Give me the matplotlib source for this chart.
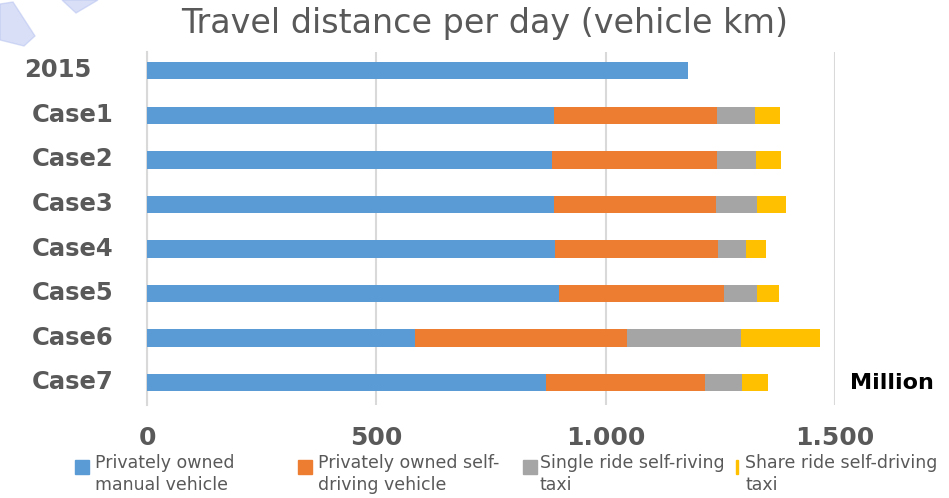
import matplotlib.pyplot as plt
import matplotlib.transforms as mtransforms
from matplotlib.patches import Rectangle, Polygon

# data (million vehicle km per day)
categories = ["2015", "Case1", "Case2", "Case3", "Case4", "Case5", "Case6", "Case7"]
manual = [1179, 888, 882, 887, 890, 899, 584, 869]
private_sd = [0, 354, 361, 353, 355, 360, 462, 348]
single_taxi = [0, 83, 84, 91, 62, 72, 248, 81]
share_taxi = [0, 56, 55, 62, 43, 47, 173, 55]
series_labels = ["Privately owned\nmanual vehicle",
                 "Privately owned self-\ndriving vehicle",
                 "Single ride self-riving\ntaxi",
                 "Share ride self-driving\ntaxi"]
xticks = [0, 500, 1000, 1500]
xtick_labels = ["0", "500", "1.000", "1.500"]

colors = ["#5B9BD5", "#ED7D31", "#A5A5A5", "#FFC000"]
text_gray = "#595959"
W, H = 949, 498

fig = plt.figure(figsize=(W / 100, H / 100), dpi=100)
ax = fig.add_axes([147 / W, 1 - 405 / H, (835 - 147) / W, (405 - 52) / H])

ypos = list(range(len(categories)))
left = [0] * len(categories)
for vals, c in zip([manual, private_sd, single_taxi, share_taxi], colors):
    ax.barh(ypos, vals, left=left, height=0.39, color=c, zorder=3)
    left = [a + b for a, b in zip(left, vals)]

ax.set_xlim(0, 1500)
ax.set_ylim(7.5, -0.42)
ax.set_xticks(xticks)
ax.set_xticklabels(xtick_labels, fontsize=18, fontweight="bold", color=text_gray)
ax.set_yticks(ypos)
ax.set_yticklabels(categories, fontsize=17.5, fontweight="bold", color=text_gray)
ax.tick_params(axis="x", length=0, pad=15)
ax.tick_params(axis="y", length=0, pad=24)
ax.grid(axis="x", color="#d9d9d9", linewidth=1.5, zorder=0)
for s in ["top", "right", "bottom"]:
    ax.spines[s].set_visible(False)
ax.spines["left"].set_color("#d9d9d9")
ax.spines["left"].set_linewidth(1.5)

# labels sit a little above the bar centres; "2015" sits further left
for i, lbl in enumerate(ax.get_yticklabels()):
    dx = -22 / 100 if i == 0 else 0
    lbl.set_transform(lbl.get_transform() +
                      mtransforms.ScaledTranslation(dx, 3 / 100, fig.dpi_scale_trans))

fig.text(485 / W, 1 - 24 / H, "Travel distance per day (vehicle km)",
         fontsize=24, color=text_gray, ha="center", va="center")
fig.text(850 / W, 1 - 383 / H, "Million", fontsize=16, fontweight="bold",
         color="black", ha="left", va="center")

# legend drawn by hand so the markers line up with the first text line
marker_x = [75, 298, 523, 736]
marker_w = [14, 14, 14, 2]
text_x = [95, 318, 540, 745]
for mx, mw, tx, c, lab in zip(marker_x, marker_w, text_x, colors, series_labels):
    fig.patches.append(Rectangle((mx / W, 1 - 474 / H), mw / W, 14 / H,
                                 transform=fig.transFigure, color=c))
    fig.text(tx / W, 1 - 454 / H, lab, fontsize=12.5, color=text_gray,
             ha="left", va="top", linespacing=1.25)

# faint watermark shapes top-left
wm = [[(0, 4), (13, 2), (35, 36), (24, 46), (0, 40)], [(62, 0), (98, 0), (76, 13)]]
for pts in wm:
    fig.patches.append(Polygon([(x / W, 1 - y / H) for x, y in pts],
                               transform=fig.transFigure, color="#b4c0f0", alpha=0.5))

fig.savefig("out.png", dpi=100)
